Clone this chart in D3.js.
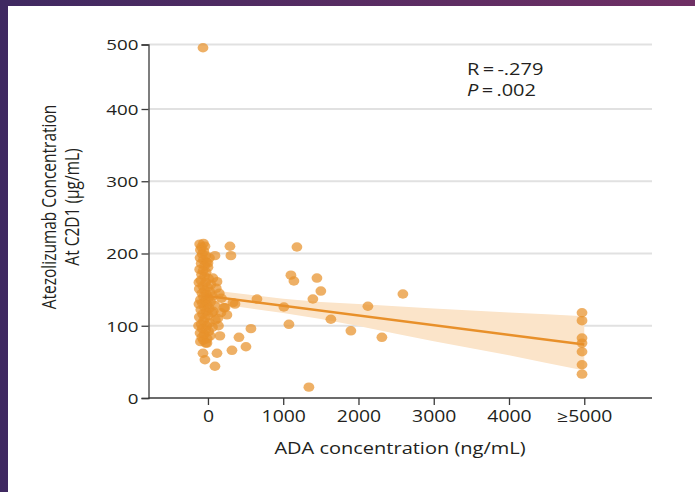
<!DOCTYPE html>
<html><head><meta charset="utf-8">
<script src="https://cdn.jsdelivr.net/npm/d3@7"></script>
<style>
html,body{margin:0;padding:0;background:#fff;}
svg{display:block;}
text{font-family:"Open Sans","Noto Sans",sans-serif;fill:#231f20;}
</style></head>
<body><svg id="c" width="695" height="492"></svg>
<script>
// ---- data ----
const yTicks = [0, 100, 200, 300, 400, 500];
const xTicks = [0, 1000, 2000, 3000, 4000, 5000];
const xTickLabels = ["0", "1000", "2000", "3000", "4000", "≥5000"];

// scatter: ADA concentration (ng/mL) and Atezolizumab concentration (µg/mL)
const adaValues = [
  -66, 292, 305, 93, 1182, 1102, 1142, 1448, 1500, 1394, 1009, 1076, 1633, 1899, 2125, 2311, 2590, 1341,
  651, 571, 332, 412, 505, 319, 120, -66, -40, 93, -13, 159, 173, 226, 359, 212, 252, 66, 120,
  4970, 4970, 4970, 4970, 4970, 4970, 4970,
  -110, -60, -85, -40, -100, -55, -75, -30, -105, -60, -20, -90, -45, 0, -110, -65, -25, -85, -45,
  10, -95, -30, 40, -70, -5, -115, -45, 25, -80, -20, 60, -60, 5, -100, -35, 35, -75, -10, 90,
  -50, 15, -95, -25, 55, -70, 0, -115, -40, 100, -60, 20, -90, -15, 60, -75, -30, 10, -105, -50,
  30, -80, -10, -60, -100, -30,
  150, 130, 180, 110, 70, 140, -120, -125, -120, 20, 0
];
const atezoValues = [
  495, 210, 197, 197, 209, 170, 162, 166, 148, 137, 126, 102, 109, 93, 127, 84, 144, 15,
  137, 96, 132, 84, 71, 66, 62, 62, 53, 44, 76, 86, 118, 125, 130, 125, 115, 166, 161,
  118, 107, 83, 76, 64, 46, 33,
  213, 214, 209, 210, 205, 203, 199, 197, 194, 191, 188, 186, 183, 181, 178, 176, 174, 171, 168,
  165, 163, 160, 157, 155, 153, 151, 149, 147, 145, 143, 141, 140, 138, 136, 134, 133, 131, 129, 128,
  126, 124, 122, 120, 118, 116, 114, 112, 110, 108, 106, 104, 102, 100, 98, 96, 94, 92, 90, 88,
  86, 84, 82, 80, 78, 76,
  145, 110, 138, 152, 120, 100, 130, 100, 160, 194, 187
];

// regression fit and 95% confidence band
const fitX = [-40, 5000];
const fitY = [141.5, 74];
const bandX = [-40, 0, 500, 1000, 1500, 2000, 2500, 3000, 3500, 4000, 4500, 5000];
const bandUpper = [150.5, 150, 143.5, 137.5, 133, 130, 127, 124, 121, 118.5, 116, 113];
const bandLower = [132.5, 132, 125, 117.5, 109.5, 99.5, 89, 78.5, 69, 59, 48.5, 38];

const statR = "R\u2009=\u2009-.279";
const statP = "\u2009=\u2009.002";

// ---- drawing ----
const svg = d3.select("#c");
const SX = 1.25; // horizontal text stretch of the reference

const defs = svg.append("defs");
const grad = defs.append("linearGradient").attr("id", "bg").attr("x1", "0").attr("x2", "1");
grad.append("stop").attr("offset", "0").attr("stop-color", "#3f2961");
grad.append("stop").attr("offset", "1").attr("stop-color", "#6f2f64");
svg.append("rect").attr("width", 695).attr("height", 492).attr("fill", "url(#bg)");
svg.append("rect").attr("x", 8).attr("y", 6).attr("width", 687).attr("height", 486).attr("fill", "#ffffff");

const x = d3.scaleLinear().domain([-790, 5900]).range([148.5, 652]);
const y = d3.scaleLinear().domain([0, 400, 500]).range([398, 109, 44.5]);

// grid
svg.append("g").selectAll("line").data(yTicks.filter(d => d > 0)).join("line")
  .attr("x1", x(-790)).attr("x2", x(5900))
  .attr("y1", d => y(d)).attr("y2", d => y(d))
  .attr("stroke", "#e1e1e1").attr("stroke-width", 2);

// band
const area = d3.area().x((d, i) => x(bandX[i])).y0((d, i) => y(bandLower[i])).y1((d, i) => y(bandUpper[i]));
svg.append("path").datum(bandX).attr("d", area).attr("fill", "#fbe4c9");

// points
svg.append("g").selectAll("ellipse").data(adaValues).join("ellipse")
  .attr("cx", (d) => x(d)).attr("cy", (d, i) => y(atezoValues[i]))
  .attr("rx", 5.4).attr("ry", 4.7)
  .attr("fill", "#e8912b").attr("fill-opacity", 0.72);

// fit line
const line = d3.line().x((d, i) => x(fitX[i])).y((d, i) => y(fitY[i]));
svg.append("path").datum(fitX).attr("d", line).attr("fill", "none")
  .attr("stroke", "#e8902a").attr("stroke-width", 2.5);

// y axis
const yAxis = svg.append("g").attr("transform", `translate(${x(-790)},0)`)
  .call(d3.axisLeft(y).tickValues(yTicks).tickSize(7).tickPadding(0).tickFormat(d3.format("d")));
yAxis.select(".domain").attr("stroke", "#3a3a3a").attr("stroke-width", 1.3);
yAxis.selectAll(".tick line").attr("stroke", "#3a3a3a").attr("stroke-width", 1.3);
yAxis.selectAll(".tick text").attr("x", 0).attr("dy", "0.36em")
  .attr("transform", `translate(-10,0) scale(${SX},1)`)
  .style("font-size", "15px").style("fill", "#231f20").style("font-family", "'Open Sans'");

// x axis
const xAxis = svg.append("g").attr("transform", `translate(0,${y(0)})`)
  .call(d3.axisBottom(x).tickValues(xTicks).tickSize(7).tickPadding(0).tickFormat((d, i) => xTickLabels[i]));
xAxis.select(".domain").attr("stroke", "#3a3a3a").attr("stroke-width", 1.3).attr("d", `M${x(-790)},0H${x(5900)}`);
xAxis.selectAll(".tick line").attr("stroke", "#3a3a3a").attr("stroke-width", 1.3);
xAxis.selectAll(".tick text").attr("y", 0).attr("dy", 0)
  .attr("transform", `translate(0,24) scale(${SX},1)`)
  .style("font-size", "15.5px").style("fill", "#231f20").style("font-family", "'Open Sans'");

// axis titles
svg.append("text").attr("transform", `translate(400,454) scale(${SX},1)`)
  .attr("text-anchor", "middle").style("font-size", "16px").text("ADA concentration (ng/mL)");

const yt = svg.append("g");
yt.append("text").attr("transform", `translate(56,207) scale(${SX},1) rotate(-90)`)
  .attr("text-anchor", "middle").style("font-size", "15.5px").text("Atezolizumab Concentration");
yt.append("text").attr("transform", `translate(79,207) scale(${SX},1) rotate(-90)`)
  .attr("text-anchor", "middle").style("font-size", "15.5px").text("At C2D1 (µg/mL)");

// stats
const st = svg.append("g");
st.append("text").attr("transform", `translate(467,75) scale(${SX},1)`).style("font-size", "16px")
  .text(statR);
const p = st.append("text").attr("transform", `translate(467,96) scale(${SX},1)`).style("font-size", "16px");
p.append("tspan").style("font-style", "italic").text("P");
p.append("tspan").text(statP);
</script>
</body></html>
